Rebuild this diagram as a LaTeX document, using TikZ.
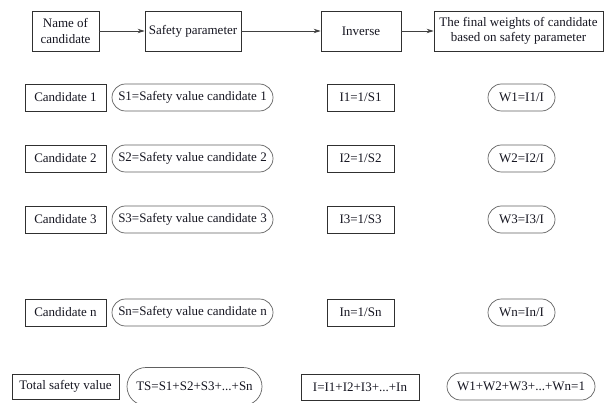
\documentclass[tikz,border=0pt]{standalone}
\usepackage{fontspec}
\setmainfont{Liberation Serif}
\usetikzlibrary{arrows.meta,shapes.misc}
\definecolor{boxline}{HTML}{303030}
\definecolor{pillline}{HTML}{606060}
\definecolor{arrowline}{HTML}{404040}
\definecolor{ink}{HTML}{151520}
\newcommand{\labelfont}{\fontsize{13}{15.5}\selectfont}
\tikzset{
  box/.style={draw=boxline, line width=0.8pt, inner sep=0pt, align=center,
              text=ink, font=\labelfont},
  pill/.style={draw=pillline, line width=0.7pt, rounded rectangle, inner sep=0pt,
               text=ink, font=\labelfont},
  flow/.style={draw=arrowline, line width=0.8pt,
               -{Stealth[length=7pt,width=4.5pt]}}
}
\begin{document}
\begin{tikzpicture}[x=1pt,y=-1pt]
  \useasboundingbox (0,0) rectangle (612,403);
  \clip (0,0) rectangle (612,403);

  % header row: the processing steps
  \node[box, minimum width=67pt, minimum height=40pt] (name)  at (65.5,31) {Name of\\candidate};
  \node[box, minimum width=96pt, minimum height=40pt] (param) at (193,31) {Safety parameter};
  \node[box, minimum width=80pt, minimum height=40pt] (inv)   at (361,31) {Inverse};
  \node[box, minimum width=169pt, minimum height=40pt] (final) at (518.5,31) {The final weights of candidate\\based on safety parameter};

  \draw[flow] (name) -- (param);
  \draw[flow] (param) -- (inv);
  \draw[flow] (inv) -- (final);

  % one row per candidate
  \foreach \k/\yy in {1/97.5, 2/158.5, 3/219.5, n/312.5}{
    \node[box, minimum width=81pt, minimum height=27pt] (c\k) at (65.5,\yy) {Candidate \k};
    \node[pill, minimum width=161pt, minimum height=27pt] (s\k) at (192.5,\yy) {S\k=Safety value candidate \k};
    \node[box, minimum width=67pt, minimum height=27pt] (i\k) at (360.5,\yy) {I\k=1/S\k};
    \node[pill, minimum width=67pt, minimum height=27pt] (w\k) at (521.5,\yy) {W\k=I\k/I};
  }

  % totals
  \node[box, minimum width=107pt, minimum height=25pt] (tot)  at (65.5,386.5) {Total safety value};
  \node[pill, minimum width=135pt, minimum height=38pt] (ts)  at (194.5,386.5) {TS=S1+S2+S3+...+Sn};
  \node[box, minimum width=118pt, minimum height=26pt] (isum) at (360,387) {I=I1+I2+I3+...+In};
  \node[pill, minimum width=148pt, minimum height=27pt] (wsum) at (521,386.5) {W1+W2+W3+...+Wn=1};
\end{tikzpicture}
\end{document}
